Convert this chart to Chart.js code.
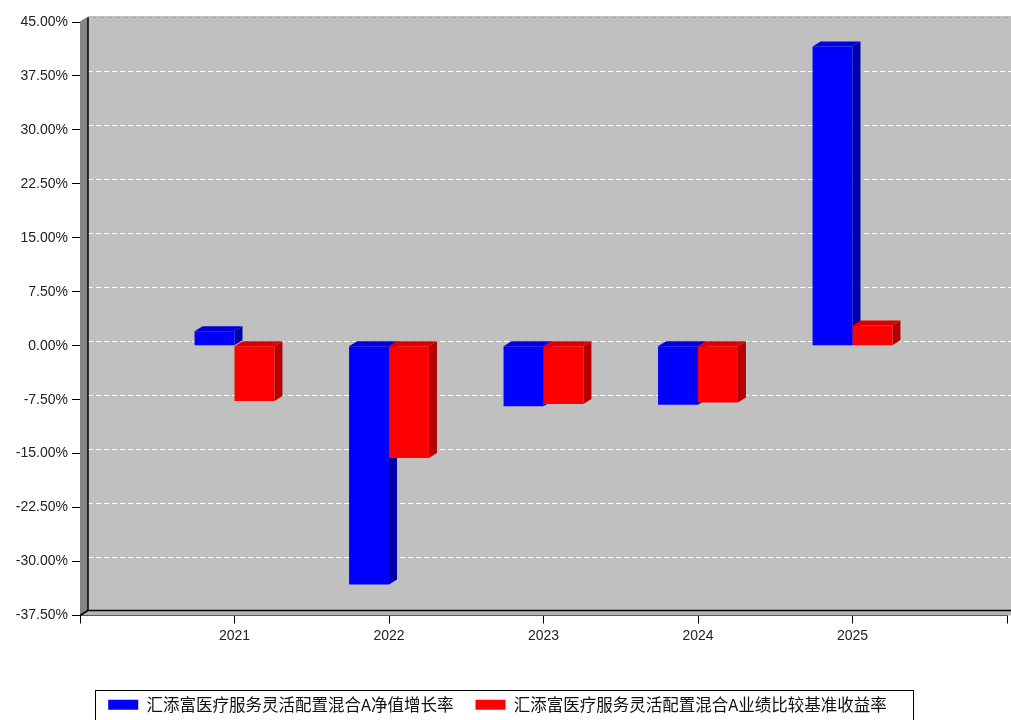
<!DOCTYPE html>
<html>
<head>
<meta charset="utf-8">
<script src="https://cdn.jsdelivr.net/npm/chart.js@4/dist/chart.umd.min.js"></script>
<style>
  html, body { margin: 0; padding: 0; background: #fff; overflow: hidden; }
  #wrap { width: 1011px; height: 720px; }
</style>
</head>
<body>
<div id="wrap"><canvas id="myChart"></canvas></div>
<script>
// --- Data ---
const years = ['', '2021', '2022', '2023', '2024', '2025', ''];
const fundReturn = [null, 2.0, -33.2, -8.4, -8.2, 41.6, null];
const benchReturn = [null, -7.7, -15.6, -8.1, -7.9, 2.8, null];
const yTicks = [-37.5, -30, -22.5, -15, -7.5, 0, 7.5, 15, 22.5, 30, 37.5, 45];
const fundName = '汇添富医疗服务灵活配置混合A净值增长率';
const benchName = '汇添富医疗服务灵活配置混合A业绩比较基准收益率';

// 3D depth of the walls and bars
const DX = 8, DY = 5;
const faces = [
    { top: '#0000dc', side: '#0000a8' },
    { top: '#e00000', side: '#b40000' }
];
const axisFont = { family: '"Liberation Sans", Arial, sans-serif', size: 14 };

function poly(ctx, pts, fill) {
    ctx.beginPath();
    ctx.moveTo(pts[0], pts[1]);
    for (let i = 2; i < pts.length; i += 2) ctx.lineTo(pts[i], pts[i + 1]);
    ctx.closePath();
    ctx.fillStyle = fill;
    ctx.fill();
}

// Back wall, side walls, dashed grid and the top/side faces of the bars
const wall3d = {
    id: 'wall3d',
    beforeDatasetsDraw(chart) {
        const { ctx, chartArea: a, scales: { y } } = chart;
        const W = chart.width;
        ctx.save();
        ctx.fillStyle = '#c0c0c0';
        ctx.fillRect(a.left + DX, a.top - DY, W - a.left - DX, a.bottom - a.top);

        // left wall and floor
        poly(ctx, [a.left, a.top, a.left + DX, a.top - DY, a.left + DX, a.bottom - DY, a.left, a.bottom], '#848484');
        poly(ctx, [a.left, a.bottom, a.left + DX, a.bottom - DY, W, a.bottom - DY, W, a.bottom], '#b4b4b4');

        // dashed grid on the back wall
        ctx.strokeStyle = 'rgba(255,255,255,0.95)';
        ctx.lineWidth = 1;
        ctx.setLineDash([5, 3]);
        yTicks.slice(1).forEach(v => {
            const py = Math.round(y.getPixelForValue(v) - DY) + 0.5;
            ctx.beginPath();
            ctx.moveTo(a.left + DX, py);
            ctx.lineTo(W, py);
            ctx.stroke();
        });
        ctx.setLineDash([]);

        // wall edges
        ctx.strokeStyle = '#000';
        ctx.lineWidth = 1.5;
        ctx.beginPath();
        ctx.moveTo(a.left + DX, a.top - DY);
        ctx.lineTo(a.left + DX, a.bottom - DY);
        ctx.lineTo(W, a.bottom - DY);
        ctx.moveTo(a.left, a.bottom);
        ctx.lineTo(a.left + DX, a.bottom - DY);
        ctx.stroke();
        ctx.strokeStyle = '#808080';
        ctx.lineWidth = 1;
        ctx.beginPath();
        ctx.moveTo(a.left, a.top);
        ctx.lineTo(a.left + DX, a.top - DY);
        ctx.lineTo(W, a.top - DY);
        ctx.stroke();

        // top and right faces of the bars
        chart.data.datasets.forEach((ds, i) => {
            const meta = chart.getDatasetMeta(i);
            meta.data.forEach((bar, j) => {
                if (ds.data[j] == null) return;
                const p = bar.getProps(['x', 'y', 'base', 'width'], true);
                const x0 = p.x - p.width / 2, x1 = p.x + p.width / 2;
                const top = Math.min(p.y, p.base), bottom = Math.max(p.y, p.base);
                poly(ctx, [x0, top, x1, top, x1 + DX, top - DY, x0 + DX, top - DY], faces[i].top);
                poly(ctx, [x1, top, x1 + DX, top - DY, x1 + DX, bottom - DY, x1, bottom], faces[i].side);
            });
        });
        ctx.restore();
    },
    afterDraw(chart) {
        // frame around the legend
        const hb = chart.legend.legendHitBoxes;
        if (!hb || !hb.length) return;
        const last = hb[hb.length - 1];
        const c = chart.ctx;
        const left = Math.round(hb[0].left - 13);
        const right = Math.round(last.left + last.width + 26);
        c.save();
        c.strokeStyle = '#000';
        c.lineWidth = 1;
        c.strokeRect(left + 0.5, Math.round(hb[0].top - 7) + 0.5, right - left, 40);
        c.restore();
    }
};

const ctx = document.getElementById('myChart');

const myChart = new Chart(ctx, {
    type: 'bar',
    data: {
        labels: years,
        datasets: [{
            label: fundName,
            data: fundReturn,
            backgroundColor: '#0000ff',
            borderWidth: 0,
            barPercentage: 1,
            categoryPercentage: 0.517
        }, {
            label: benchName,
            data: benchReturn,
            backgroundColor: '#ff0000',
            borderWidth: 0,
            barPercentage: 1,
            categoryPercentage: 0.517
        }]
    },
    options: {
        responsive: true,
        maintainAspectRatio: false,
        animation: false,
        layout: { padding: { left: -16, right: 0, top: 22, bottom: -3 } },
        scales: {
            x: {
                offset: false,
                afterFit: s => { s.height = 59; },
                grid: { drawOnChartArea: false, offset: false, tickLength: 8, color: '#000' },
                border: { color: '#000' },
                ticks: { color: '#222', font: axisFont, padding: 4, autoSkip: false, maxRotation: 0 }
            },
            y: {
                min: yTicks[0],
                max: yTicks[yTicks.length - 1],
                afterFit: s => { s.width = 96; },
                afterBuildTicks: s => { s.ticks = yTicks.map(v => ({ value: v })); },
                grid: { drawOnChartArea: false, tickLength: 8, color: '#000' },
                border: { color: '#000' },
                ticks: { color: '#222', font: axisFont, padding: 4, callback: v => v.toFixed(2) + '%' }
            }
        },
        plugins: {
            legend: {
                position: 'bottom',
                labels: {
                    boxWidth: 30,
                    boxHeight: 10,
                    padding: 22,
                    color: '#111',
                    font: { family: '"Noto Sans CJK SC", sans-serif', size: 16.5 }
                }
            },
            tooltip: { enabled: false }
        }
    },
    plugins: [wall3d]
});
</script>
</body>
</html>
